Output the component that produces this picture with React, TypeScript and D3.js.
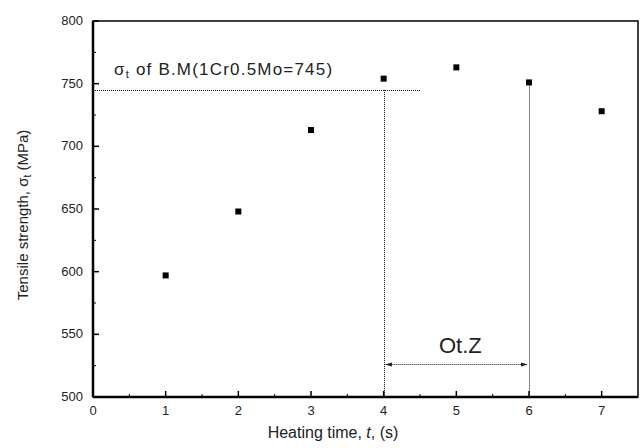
import React from 'react';
import { scaleLinear, range } from 'd3';

const times = [1, 2, 3, 4, 5, 6, 7];
const strength = [597, 648, 713, 754, 763, 751, 728];
const baseMetal = 745;
const otzStart = 4;
const otzEnd = 6;
const yTicks = [500, 550, 600, 650, 700, 750, 800];
const xTicks = [0, 1, 2, 3, 4, 5, 6, 7];

const W = 644;
const H = 448;
const m = { left: 93, right: 6, top: 21, bottom: 51 };

// snap to pixel centre so the dotted lines stay crisp
const px = (v: number) => Math.round(v) + 0.5;

export default function App() {
  const x = scaleLinear().domain([0, 7.5]).range([m.left, W - m.right]);
  const y = scaleLinear().domain([500, 800]).range([H - m.bottom, m.top]);
  const font = 'Liberation Sans, Arial, sans-serif';
  const x0 = x.range()[0];
  const x1 = x.range()[1];
  const y0 = y.range()[0];
  const y1 = y.range()[1];

  const yMinor = range(525, 800, 50);
  const xMinor = range(0.5, 7.5, 1);
  const arrowY = px(y(526));
  const dot = { stroke: '#111', strokeWidth: 1, strokeDasharray: '1,1' };

  return (
    <svg
      width={W}
      height={H}
      style={{ position: 'absolute', left: 0, top: 0, background: '#fff' }}
      fontFamily={font}
    >
      <defs>
        <marker id="ah" viewBox="0 0 10 10" refX="9" refY="5" markerWidth="7" markerHeight="7" orient="auto-start-reverse">
          <path d="M0,2 L10,5 L0,8 z" fill="#222" />
        </marker>
      </defs>

      {/* base metal reference + OtZ bounds */}
      <line x1={x0} x2={x(4.5)} y1={px(y(baseMetal))} y2={px(y(baseMetal))} {...dot} />
      <line x1={px(x(otzStart))} x2={px(x(otzStart))} y1={y(baseMetal)} y2={y0} {...dot} />
      <line x1={px(x(otzEnd))} x2={px(x(otzEnd))} y1={y(strength[5]) + 3} y2={y0} {...dot} />
      <line
        x1={x(otzStart) + 2}
        x2={x(otzEnd) - 2}
        y1={arrowY}
        y2={arrowY}
        {...dot}
        markerStart="url(#ah)"
        markerEnd="url(#ah)"
      />
      <text x={(x(otzStart) + x(otzEnd)) / 2 + 4} y={arrowY - 12} fontSize={22} textAnchor="middle" fill="#222">
        Ot.Z
      </text>

      <text x={x0 + 21} y={75} fontSize={17} letterSpacing={1.2} fill="#222">
        σ<tspan fontSize={11} dy={3}>t</tspan>
        <tspan dy={-3}> of B.M(1Cr0.5Mo=745)</tspan>
      </text>

      {/* data points */}
      {times.map((t, i) => (
        <rect key={t} x={x(t) - 3} y={y(strength[i]) - 3} width={6} height={6} fill="#000" />
      ))}

      {/* frame */}
      <rect x={x0} y={y1} width={x1 - x0} height={y0 - y1} fill="none" stroke="#000" strokeWidth={1.5} />
      <line x1={x0} x2={x0} y1={y1} y2={y0} stroke="#000" strokeWidth={2.5} />
      <line x1={x0} x2={x1} y1={y0} y2={y0} stroke="#000" strokeWidth={2.5} />

      {yTicks.map((v) => (
        <g key={v}>
          <line x1={x0} x2={x0 + 6} y1={y(v)} y2={y(v)} stroke="#000" strokeWidth={1.5} />
          <text x={x0 - 10} y={y(v) + 4} fontSize={13} textAnchor="end" fill="#222">
            {v}
          </text>
        </g>
      ))}
      {yMinor.map((v) => (
        <line key={v} x1={x0} x2={x0 + 3} y1={y(v)} y2={y(v)} stroke="#000" />
      ))}
      {xTicks.map((v) => (
        <g key={v}>
          <line x1={x(v)} x2={x(v)} y1={y0} y2={y0 - 6} stroke="#000" strokeWidth={1.5} />
          <text x={x(v)} y={y0 + 18} fontSize={13} textAnchor="middle" fill="#222">
            {v}
          </text>
        </g>
      ))}
      {xMinor.map((v) => (
        <line key={v} x1={x(v)} x2={x(v)} y1={y0} y2={y0 - 3} stroke="#000" />
      ))}

      <text x={333} y={y0 + 41} fontSize={16} textAnchor="middle" fill="#222">
        Heating time, <tspan fontStyle="italic">t</tspan>, (s)
      </text>
      <text transform="translate(28, 215) rotate(-90)" fontSize={15} textAnchor="middle" fill="#222">
        Tensile strength, σ<tspan fontSize={10} dy={3}>t</tspan>
        <tspan dy={-3}> (MPa)</tspan>
      </text>
    </svg>
  );
}
